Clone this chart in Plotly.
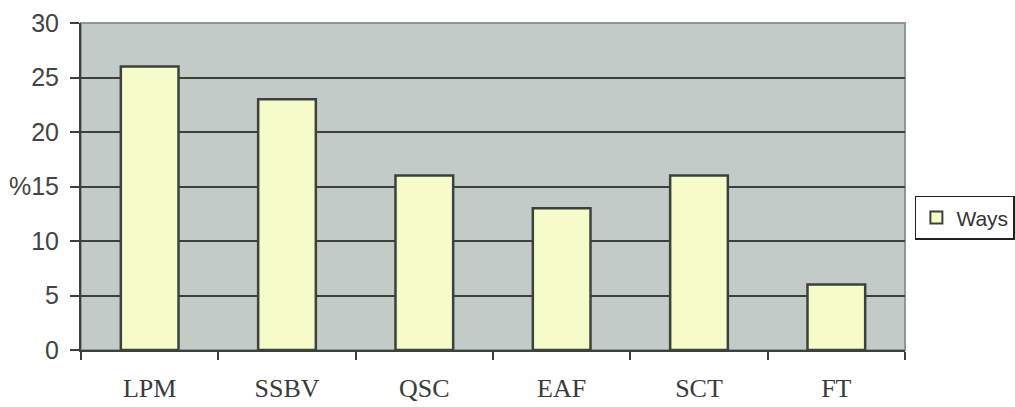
import plotly.graph_objects as go

categories = ["LPM", "SSBV", "QSC", "EAF", "SCT", "FT"]
ways = [26, 23, 16, 13, 16, 6]
y_tick_values = [0, 5, 10, 15, 20, 25, 30]
y_tick_labels = ["0", "5", "10", "%15", "20", "25", "30"]

fig = go.Figure()
fig.add_trace(go.Bar(
    x=categories,
    y=ways,
    name="Ways",
    width=0.42,
    marker=dict(color="#f6fbca", line=dict(color="#3b423c", width=2.5)),
))

fig.update_layout(
    width=1015,
    height=407,
    margin=dict(l=81, r=110, t=23, b=57, autoexpand=False),
    paper_bgcolor="#ffffff",
    plot_bgcolor="#c3cbc9",
    showlegend=True,
    legend=dict(
        x=1.012, y=0.404, xanchor="left", yanchor="middle",
        bgcolor="#ffffff", bordercolor="#222222", borderwidth=1.5,
        font=dict(family="Liberation Sans, Arial, sans-serif", size=21, color="#333333"),
        itemwidth=30,
        itemsizing="constant",
    ),
    xaxis=dict(
        type="category",
        tickson="boundaries",
        ticks="outside",
        ticklen=8,
        tickwidth=2,
        tickcolor="#3b423c",
        showline=True,
        linecolor="#3b423c",
        linewidth=2,
        showgrid=False,
        ticklabelstandoff=14,
        tickfont=dict(family="Liberation Serif, Times New Roman, serif", size=26, color="#3a3a3a"),
    ),
    yaxis=dict(
        range=[0, 30],
        tickvals=y_tick_values,
        ticktext=y_tick_labels,
        ticks="outside",
        ticklen=9,
        tickwidth=2,
        tickcolor="#3b423c",
        showline=True,
        linecolor="#3b423c",
        linewidth=2,
        showgrid=True,
        gridcolor="#3b423c",
        gridwidth=2.2,
        zeroline=False,
        ticklabelstandoff=6,
        tickfont=dict(family="Liberation Sans, Arial, sans-serif", size=25, color="#444444"),
    ),
    bargap=0.58,
)

# light frame around the plotting area
fig.add_shape(
    type="rect", xref="paper", yref="paper", x0=0, y0=0, x1=1, y1=1,
    line=dict(color="#8f9795", width=2), layer="below",
)

fig.write_html("out.html")
